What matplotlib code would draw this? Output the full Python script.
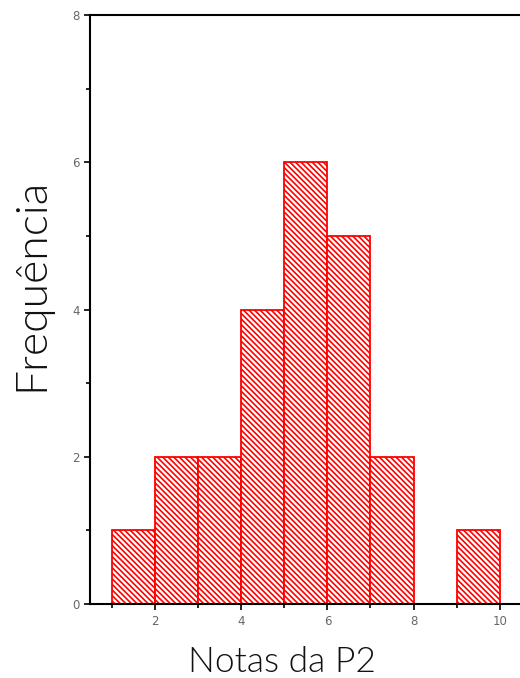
import numpy as np
import matplotlib.pyplot as plt
from matplotlib import font_manager

# histogram of grades (P2)
bin_left = [1, 2, 3, 4, 5, 6, 7, 8, 9]
counts = [1, 2, 2, 4, 6, 5, 2, 0, 1]
xticks = [2, 4, 6, 8, 10]
yticks = [0, 2, 4, 6, 8]

# look for a light (300) weight of a Lato-like face, else plain Lato
label_font = {'family': 'Lato', 'weight': 'normal'}
for name in ['Lato', 'Open Sans', 'Noto Sans', 'Inter', 'Roboto']:
    found = [f for f in font_manager.fontManager.ttflist
             if f.name == name and f.weight == 300 and f.style == 'normal']
    if found:
        label_font = {'family': name, 'weight': 300}
        break

plt.rcParams['hatch.linewidth'] = 1.2

fig = plt.figure(figsize=(5.2, 6.78), dpi=100)
ax = fig.add_axes([0.173, 0.109, 0.827, 0.869])

ax.bar(bin_left, counts, width=1, align='edge', color='white',
       edgecolor='red', hatch='\\' * 6, linewidth=1.3)

ax.set_xlim(0.49, 10.47)
ax.set_ylim(0, 8)
ax.set_xticks(xticks)
ax.set_xticks([1, 3, 5, 7, 9], minor=True)
ax.set_yticks(yticks)
ax.set_yticks([1, 3, 5, 7], minor=True)
ax.tick_params(which='both', direction='out', length=4, width=1.2,
               labelsize=8.5, labelcolor='#666666', color='black')
ax.tick_params(which='minor', length=3)

for s in ['left', 'top', 'bottom']:
    ax.spines[s].set_linewidth(1.5)
ax.spines['right'].set_visible(False)

ax.set_xlabel('Notas da P2', fontfamily=label_font['family'],
              fontweight=label_font['weight'], fontsize=25.5,
              color='#111111', va='center')
ax.xaxis.set_label_coords(0.447, -0.098)
ax.set_ylabel('Frequência', fontfamily=label_font['family'],
              fontweight=label_font['weight'], fontsize=32,
              color='#111111', va='center')
ax.yaxis.set_label_coords(-0.135, 0.542)

fig.savefig('out.png', dpi=100)
